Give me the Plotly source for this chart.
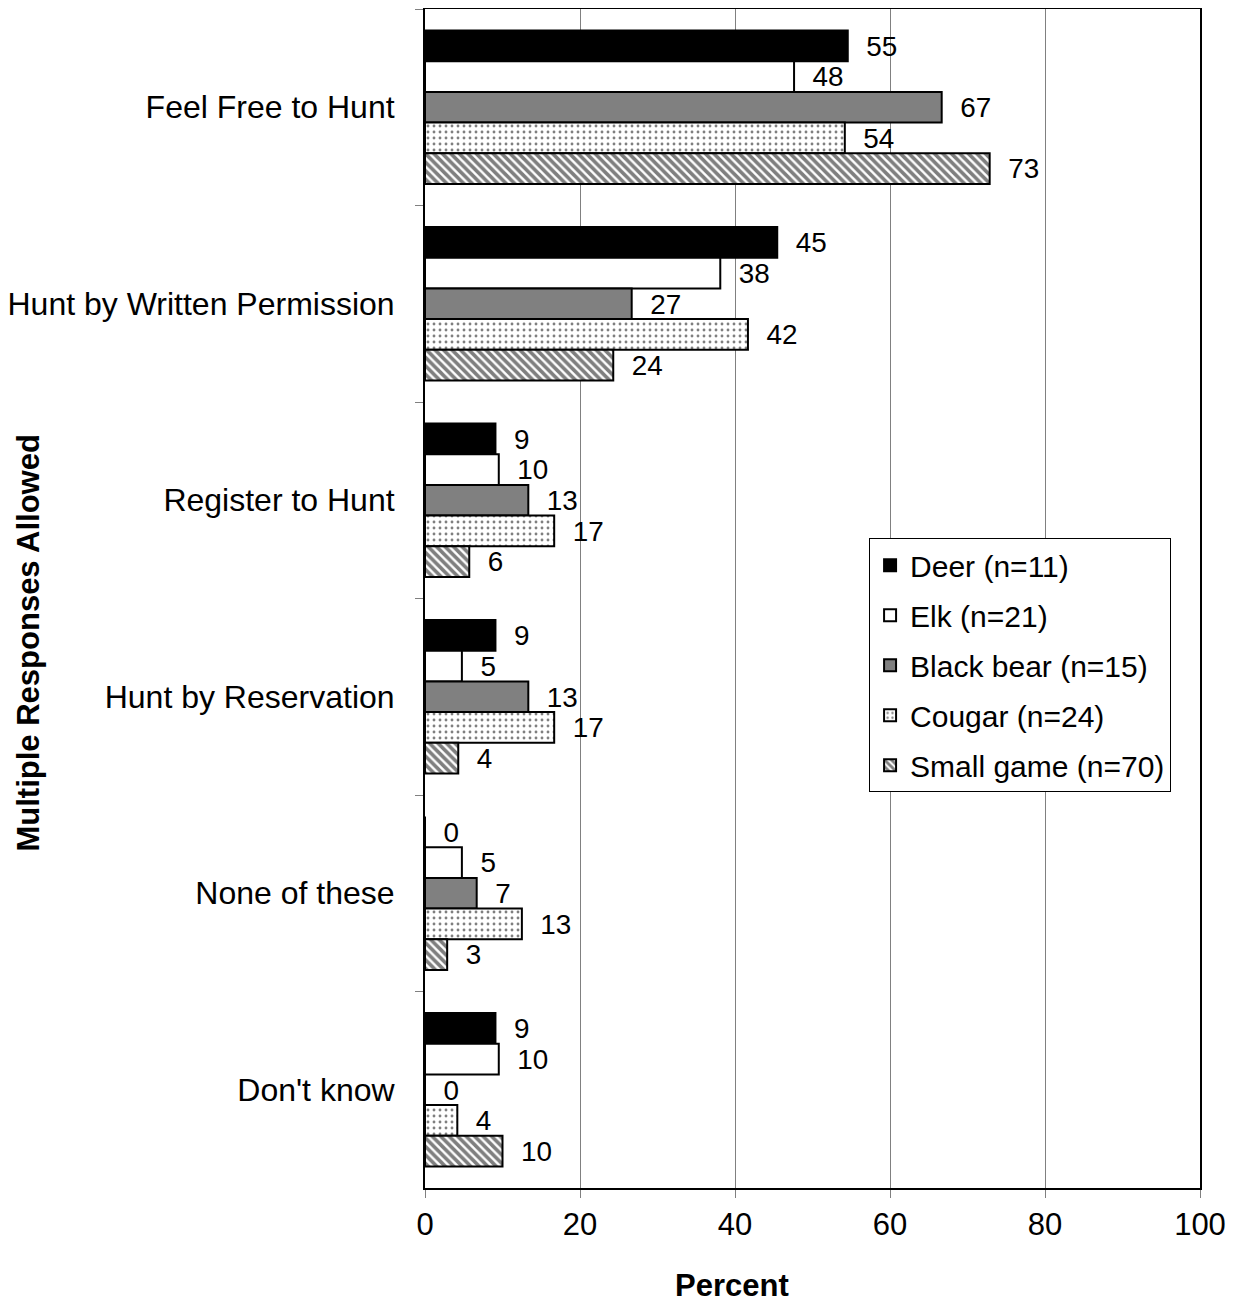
import plotly.graph_objects as go

categories = ["Feel Free to Hunt", "Hunt by Written Permission", "Register to Hunt",
              "Hunt by Reservation", "None of these", "Don't know"]
series_names = ["Deer (n=11)", "Elk (n=21)", "Black bear (n=15)", "Cougar (n=24)", "Small game (n=70)"]
deer = [54.55, 45.45, 9.09, 9.09, 0.0, 9.09]
elk = [47.62, 38.10, 9.52, 4.76, 4.76, 9.52]
black_bear = [66.67, 26.67, 13.33, 13.33, 6.67, 0.0]
cougar = [54.17, 41.67, 16.67, 16.67, 12.5, 4.17]
small_game = [72.86, 24.29, 5.71, 4.29, 2.86, 10.0]
x_ticks = [0, 20, 40, 60, 80, 100]

series = [deer, elk, black_bear, cougar, small_game]
fills = ["#000000", "#ffffff", "#808080", "#ffffff", "#ffffff"]
patterns = [None, None, None,
            dict(shape=".", fgcolor="#000000", bgcolor="#ffffff", size=6, solidity=0.18),
            dict(shape="\\", fgcolor="#000000", bgcolor="#ffffff", size=6, solidity=0.6)]

FONT = "Liberation Sans, Arial, sans-serif"
fig = go.Figure()
for i, (name, vals) in enumerate(zip(series_names, series)):
    marker = dict(color=fills[i], line=dict(color="#000000", width=2))
    if patterns[i] is not None:
        marker["pattern"] = patterns[i]
    fig.add_trace(go.Bar(
        y=categories, x=vals, name=name, orientation="h",
        marker=marker,
        text=["\u00a0\u00a0" + str(int(v + 0.5)) for v in vals],
        textposition="outside", cliponaxis=False,
        textfont=dict(size=30, color="#000000", family=FONT),
        legendgroup=f"g{i}",
    ))

fig.add_annotation(text="<b>Multiple Responses Allowed</b>", textangle=-90,
                   xref="paper", yref="paper", x=-0.512, y=0.462,
                   xanchor="center", yanchor="middle", showarrow=False,
                   font=dict(size=31, family=FONT, color="#000000"))
fig.add_annotation(text="<b>Percent</b>",
                   xref="paper", yref="paper", x=0.396, y=-0.0985,
                   xanchor="center", yanchor="bottom", showarrow=False,
                   borderpad=0,
                   font=dict(size=31, family=FONT, color="#000000"))

fig.update_layout(
    width=1230, height=1297,
    barmode="group", bargap=0.22, bargroupgap=0,
    plot_bgcolor="#ffffff", paper_bgcolor="#ffffff",
    margin=dict(l=417, r=38, t=1, b=117, autoexpand=False),
    font=dict(family=FONT, size=31, color="#000000"),
    showlegend=True,
    legend=dict(x=0.573, y=0.551, xanchor="left", yanchor="top",
                bgcolor="#ffffff", bordercolor="#000000", borderwidth=1,
                font=dict(size=30, family=FONT), traceorder="grouped",
                tracegroupgap=8, itemwidth=30),
    xaxis=dict(range=[0, 100], tickvals=x_ticks, showgrid=True, gridcolor="#808080",
               gridwidth=1, ticks="outside", ticklen=8, tickcolor="#808080",
               showline=True, linecolor="#000000", linewidth=2, mirror=True,
               zeroline=False, tickfont=dict(size=31)),
    yaxis=dict(autorange="reversed", ticks="outside", ticklen=8, tickcolor="#808080",
               tickson="boundaries", showline=True, linecolor="#000000", linewidth=2,
               mirror=True, tickfont=dict(size=32), ticklabelstandoff=22),
)

fig.write_html("out.html")
